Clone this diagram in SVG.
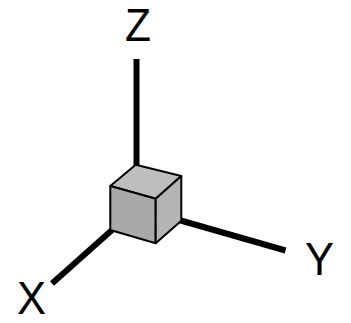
<svg xmlns="http://www.w3.org/2000/svg" width="351" height="323" viewBox="0 0 351 323">
<style>
.axis{stroke:#000;stroke-width:6;fill:none}
.edge{stroke:#000;stroke-width:2;stroke-linejoin:round}
.lbl{font-family:"Liberation Sans",Arial,sans-serif;font-size:46.5px;fill:#000;text-anchor:middle}
</style>
<rect width="351" height="323" fill="#fff"/>
<g id="connectors">
<line class="axis" x1="136.5" y1="59" x2="136.5" y2="168"/>
<line class="axis" x1="112" y1="230" x2="52" y2="283.5"/>
<line class="axis" x1="179" y1="220" x2="285.5" y2="250.5"/>
</g>
<g id="cube">
<polygon class="edge" fill="#bebebe" points="110.3,186 135.7,164.7 181.3,176 155.7,198.7"/>
<polygon class="edge" fill="#a9a9a9" points="110.3,186 155.7,198.7 155.7,243.3 110.3,230"/>
<polygon class="edge" fill="#b4b4b4" points="155.7,198.7 181.3,176 181.3,220.7 155.7,243.3"/>
</g>
<g id="label-z"><text class="lbl" x="138" y="40.5" textLength="26" lengthAdjust="spacingAndGlyphs">Z</text></g>
<g id="label-x"><text class="lbl" x="31.5" y="314" textLength="29" lengthAdjust="spacingAndGlyphs">X</text></g>
<g id="label-y"><text class="lbl" x="319.5" y="275" textLength="29" lengthAdjust="spacingAndGlyphs">Y</text></g>
</svg>
